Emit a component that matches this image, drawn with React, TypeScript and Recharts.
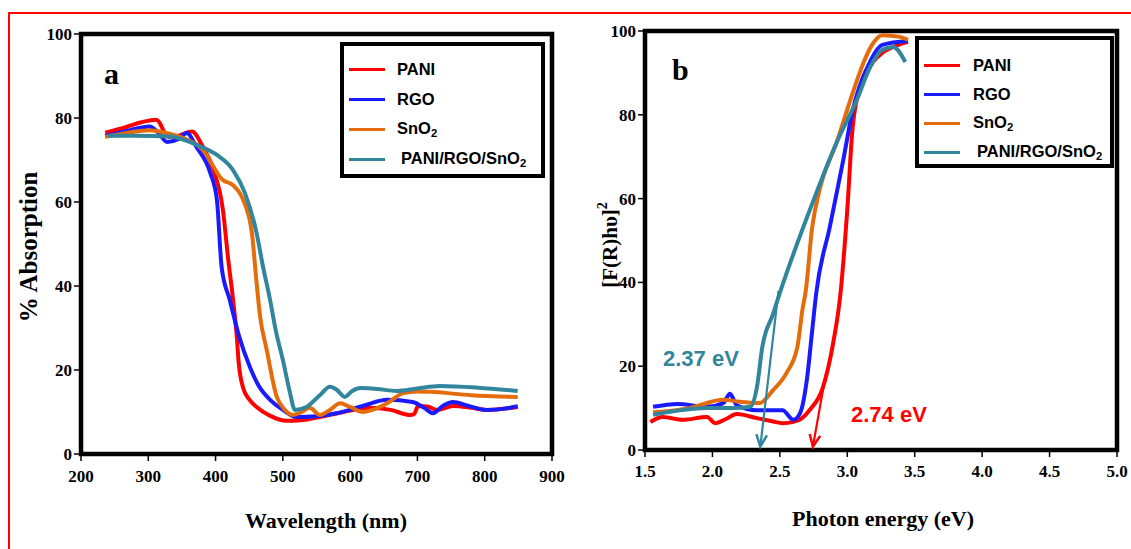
import React from 'react';
import { LineChart, Line, XAxis, YAxis, ReferenceArea, ReferenceLine, Legend } from 'recharts';

// ---------- shared ----------
const seriesNames = ['PANI', 'RGO', 'SnO2', 'PANI/RGO/SnO2'];
const seriesColors = ['#ff0000', '#1a1aff', '#e46c0a', '#31859c'];

// ---------- panel a : UV-vis absorption ----------
const wavelengthTicks = [200, 300, 400, 500, 600, 700, 800, 900];
const absorptionTicks = [0, 20, 40, 60, 80, 100];

const paniAbs = [
  { w: 236, v: 76.5 }, { w: 260, v: 77.5 }, { w: 290, v: 79 }, { w: 312, v: 79.6 }, { w: 330, v: 75.5 },
  { w: 345, v: 75.8 }, { w: 365, v: 76.8 }, { w: 380, v: 73.5 }, { w: 396, v: 68 }, { w: 411, v: 58 },
  { w: 419, v: 46 }, { w: 426, v: 36.7 }, { w: 432, v: 27 }, { w: 434, v: 22.4 }, { w: 441, v: 15.7 },
  { w: 450, v: 13 }, { w: 461, v: 11.2 }, { w: 480, v: 9.2 }, { w: 506, v: 7.9 }, { w: 530, v: 8.1 },
  { w: 555, v: 8.8 }, { w: 590, v: 10 }, { w: 629, v: 11 }, { w: 660, v: 10.5 }, { w: 689, v: 9.3 },
  { w: 695, v: 9.5 }, { w: 701, v: 11.4 }, { w: 715, v: 11.3 }, { w: 729, v: 10.5 }, { w: 753, v: 11.4 },
  { w: 780, v: 11 }, { w: 803, v: 10.5 }, { w: 849, v: 11.2 },
];
const rgoAbs = [
  { w: 236, v: 75.7 }, { w: 270, v: 77 }, { w: 302, v: 78 }, { w: 315, v: 76.5 }, { w: 328, v: 74.3 },
  { w: 345, v: 75 }, { w: 357, v: 76.4 }, { w: 372, v: 73 }, { w: 392, v: 67 }, { w: 402, v: 60.5 },
  { w: 409, v: 44.5 }, { w: 421, v: 36.7 }, { w: 435, v: 28 }, { w: 451, v: 20.7 }, { w: 465, v: 16 },
  { w: 481, v: 12.9 }, { w: 500, v: 10.5 }, { w: 521, v: 8.8 }, { w: 550, v: 9 }, { w: 580, v: 9.7 },
  { w: 620, v: 11.5 }, { w: 655, v: 12.9 }, { w: 693, v: 12.4 }, { w: 710, v: 11 }, { w: 723, v: 9.7 },
  { w: 738, v: 11.5 }, { w: 753, v: 12.4 }, { w: 775, v: 11.5 }, { w: 803, v: 10.5 }, { w: 830, v: 10.8 },
  { w: 849, v: 11.4 },
];
const sno2Abs = [
  { w: 236, v: 75.5 }, { w: 270, v: 76.5 }, { w: 302, v: 77.1 }, { w: 325, v: 76.5 }, { w: 347, v: 75.5 },
  { w: 381, v: 72.4 }, { w: 411, v: 65.2 }, { w: 426, v: 64 }, { w: 441, v: 60.5 }, { w: 454, v: 52.6 },
  { w: 461, v: 40.7 }, { w: 466, v: 33 }, { w: 476, v: 24.8 }, { w: 491, v: 13.6 }, { w: 503, v: 10.5 },
  { w: 515, v: 9.3 }, { w: 528, v: 10 }, { w: 540, v: 11 }, { w: 555, v: 9.3 }, { w: 570, v: 10.5 },
  { w: 585, v: 12.1 }, { w: 600, v: 11.2 }, { w: 619, v: 10 }, { w: 635, v: 10.6 }, { w: 655, v: 12.1 },
  { w: 679, v: 14.5 }, { w: 700, v: 14.9 }, { w: 719, v: 14.8 }, { w: 780, v: 14 }, { w: 849, v: 13.6 },
];
const compositeAbs = [
  { w: 240, v: 75.8 }, { w: 280, v: 75.8 }, { w: 332, v: 75.6 }, { w: 372, v: 73.6 }, { w: 402, v: 71.2 },
  { w: 426, v: 67.6 }, { w: 444, v: 62 }, { w: 461, v: 52.6 }, { w: 470, v: 45 }, { w: 481, v: 36.7 },
  { w: 490, v: 29 }, { w: 500, v: 22.4 }, { w: 510, v: 15 }, { w: 518, v: 10.5 }, { w: 535, v: 11.2 },
  { w: 555, v: 14 }, { w: 570, v: 16 }, { w: 580, v: 15.3 }, { w: 592, v: 13.6 }, { w: 603, v: 15 },
  { w: 615, v: 15.7 }, { w: 640, v: 15.5 }, { w: 669, v: 15 }, { w: 700, v: 15.6 }, { w: 733, v: 16.2 },
  { w: 790, v: 15.8 }, { w: 849, v: 15 },
];
const absSeries = [paniAbs, rgoAbs, sno2Abs, compositeAbs];

// ---------- panel b : Tauc plot ----------
const energyTicks = [1.5, 2.0, 2.5, 3.0, 3.5, 4.0, 4.5, 5.0];
const taucTicks = [0, 20, 40, 60, 80, 100];

const paniTauc = [
  { e: 1.54, v: 6.7 }, { e: 1.63, v: 7.9 }, { e: 1.78, v: 7.2 }, { e: 1.96, v: 7.9 }, { e: 2.02, v: 6.4 },
  { e: 2.1, v: 7.4 }, { e: 2.18, v: 8.6 }, { e: 2.33, v: 7.6 }, { e: 2.45, v: 6.8 }, { e: 2.52, v: 6.4 },
  { e: 2.6, v: 6.7 }, { e: 2.66, v: 7.5 }, { e: 2.72, v: 9.5 }, { e: 2.82, v: 15 }, { e: 2.89, v: 24.6 },
  { e: 2.95, v: 37.5 }, { e: 3.0, v: 57.3 }, { e: 3.04, v: 77.1 }, { e: 3.11, v: 88.3 }, { e: 3.19, v: 92.6 },
  { e: 3.26, v: 94.8 }, { e: 3.32, v: 95.9 }, { e: 3.45, v: 97.4 },
];
const rgoTauc = [
  { e: 1.56, v: 10.3 }, { e: 1.74, v: 11 }, { e: 1.96, v: 10.3 }, { e: 2.08, v: 11.2 }, { e: 2.13, v: 13.4 },
  { e: 2.18, v: 10.7 }, { e: 2.33, v: 9.5 }, { e: 2.52, v: 9.5 }, { e: 2.6, v: 7.2 }, { e: 2.65, v: 8.8 },
  { e: 2.7, v: 16.7 }, { e: 2.74, v: 28.6 }, { e: 2.77, v: 37.5 }, { e: 2.87, v: 53.2 }, { e: 2.97, v: 69.2 },
  { e: 3.04, v: 81.1 }, { e: 3.15, v: 91.4 }, { e: 3.26, v: 96.7 }, { e: 3.45, v: 97.6 },
];
const sno2Tauc = [
  { e: 1.56, v: 9 }, { e: 1.83, v: 10 }, { e: 2.08, v: 12 }, { e: 2.2, v: 11.5 }, { e: 2.35, v: 11.2 },
  { e: 2.45, v: 14.3 }, { e: 2.55, v: 18.4 }, { e: 2.63, v: 24.6 }, { e: 2.67, v: 34 }, { e: 2.69, v: 37.5 },
  { e: 2.74, v: 53.2 }, { e: 2.8, v: 62.8 }, { e: 2.92, v: 73.3 }, { e: 3.04, v: 85.2 }, { e: 3.12, v: 92.4 },
  { e: 3.18, v: 96.5 }, { e: 3.26, v: 99 }, { e: 3.39, v: 98.6 }, { e: 3.45, v: 97.9 },
];
const compositeTauc = [
  { e: 1.56, v: 8.4 }, { e: 1.96, v: 10 }, { e: 2.15, v: 10 }, { e: 2.28, v: 10.3 }, { e: 2.33, v: 15 },
  { e: 2.37, v: 24.6 }, { e: 2.45, v: 32.5 }, { e: 2.5, v: 37.5 }, { e: 2.63, v: 49.4 }, { e: 2.77, v: 61.3 },
  { e: 2.92, v: 73.3 }, { e: 3.07, v: 83.5 }, { e: 3.17, v: 91.4 }, { e: 3.26, v: 95.5 }, { e: 3.34, v: 96.2 },
  { e: 3.43, v: 92.6 },
];
const taucSeries = [paniTauc, rgoTauc, sno2Tauc, compositeTauc];

// band-gap annotations: [arrow start, arrow tip]
const compositeGapArrow = [{ x: 2.49, y: 38 }, { x: 2.355, y: 0.8 }];
const paniGapArrow = [{ x: 2.84, y: 18 }, { x: 2.745, y: 0.8 }];
const gapLabels = ['2.37 eV', '2.74 eV'];

// ---------- styles ----------
const SERIF = '"Times New Roman", "Liberation Serif", serif';
const SANS = 'Arial, "Liberation Sans", sans-serif';
const tickStyle = { fill: '#000', fontSize: 17, fontWeight: 'bold', fontFamily: SERIF } as const;

const renderName = (name: string) =>
  name.endsWith('2') ? (
    <>
      {name.slice(0, -1)}
      <sub style={{ fontSize: '0.68em', verticalAlign: '-0.25em' }}>2</sub>
    </>
  ) : (
    name
  );

const makeLegend = (rowGap: number, firstRow: number, textLeft: number) => (props: any) => {
  const payload = [...(props.payload || [])].sort(
    (a: any, b: any) => seriesNames.indexOf(String(a.value)) - seriesNames.indexOf(String(b.value))
  );
  return (
    <div
      style={{
        boxSizing: 'border-box',
        width: '100%',
        height: '100%',
        border: '4px solid #000',
        background: '#fff',
        position: 'relative',
        fontFamily: SANS,
        fontWeight: 'bold',
        fontSize: 16.5,
        color: '#000',
      }}
    >
      {payload.map((p: any, i: number) => (
        <div
          key={i}
          style={{
            position: 'absolute',
            left: 5,
            top: firstRow + i * rowGap - 10,
            height: 20,
            display: 'flex',
            alignItems: 'center',
            whiteSpace: 'nowrap',
          }}
        >
          <div style={{ width: 36, height: 3, background: p.color }} />
          <div style={{ marginLeft: textLeft + (String(p.value) === seriesNames[3] ? 4 : 0) }}>
            {renderName(String(p.value))}
          </div>
        </div>
      ))}
    </div>
  );
};

const makeArrow = (color: string) => (props: any) => {
  const { x1, y1, x2, y2 } = props;
  const ang = Math.atan2(y2 - y1, x2 - x1);
  const L = 13;
  const a = 0.42;
  const p1 = `${x2 - L * Math.cos(ang - a)},${y2 - L * Math.sin(ang - a)}`;
  const p2 = `${x2 - L * Math.cos(ang + a)},${y2 - L * Math.sin(ang + a)}`;
  return (
    <g>
      <line x1={x1} y1={y1} x2={x2} y2={y2} stroke={color} strokeWidth={2.2} />
      <polyline points={`${p1} ${x2},${y2} ${p2}`} fill="none" stroke={color} strokeWidth={2.5} />
    </g>
  );
};

const PanelA = () => (
  <LineChart width={565} height={549} margin={{ top: 34, right: 13, bottom: 65, left: 21 }}>
    <XAxis
      dataKey="w"
      type="number"
      domain={[200, 900]}
      ticks={wavelengthTicks}
      allowDataOverflow
      axisLine={false}
      tickLine={{ stroke: '#000', strokeWidth: 1.5 }}
      tickSize={7}
      tickMargin={9}
      height={30}
      tick={tickStyle}
    />
    <YAxis
      type="number"
      domain={[0, 100]}
      ticks={absorptionTicks}
      axisLine={false}
      tickLine={{ stroke: '#000', strokeWidth: 1.5 }}
      tickSize={7}
      tickMargin={2}
      width={60}
      tick={tickStyle}
    />
    <ReferenceArea x1={200} x2={900} y1={0} y2={100} fill="none" stroke="#000" strokeWidth={4.5} ifOverflow="visible" />
    {absSeries.map((d, i) => (
      <Line
        key={seriesNames[i]}
        data={d}
        dataKey="v"
        name={seriesNames[i]}
        type="monotone"
        stroke={seriesColors[i]}
        strokeWidth={4}
        dot={false}
        activeDot={false}
        isAnimationActive={false}
      />
    ))}
    <Legend
      layout="horizontal"
      verticalAlign="middle"
      align="center"
      content={makeLegend(30, 23, 12)}
      wrapperStyle={{ left: 340, top: 42, width: 205, height: 136 }}
    />
    <text x={104} y={84} fontFamily={SERIF} fontWeight="bold" fontSize={30} fill="#000">a</text>
    <text
      x={0}
      y={0}
      transform="translate(28,247) rotate(-90)"
      textAnchor="middle"
      dominantBaseline="central"
      fontFamily={SERIF}
      fontWeight="bold"
      fontSize={25}
      fill="#000"
    >
      % Absorption
    </text>
    <text x={326} y={520} textAnchor="middle" dominantBaseline="central" fontFamily={SERIF} fontWeight="bold" fontSize={22} fill="#000">
      Wavelength (nm)
    </text>
  </LineChart>
);

const PanelB = () => (
  <LineChart width={566} height={549} margin={{ top: 31, right: 14, bottom: 69, left: 20 }}>
    <XAxis
      dataKey="e"
      type="number"
      domain={[1.5, 5.0]}
      ticks={energyTicks}
      tickFormatter={(t: number) => t.toFixed(1)}
      axisLine={false}
      tickLine={{ stroke: '#000', strokeWidth: 1.5 }}
      tickSize={7}
      tickMargin={8}
      height={30}
      tick={tickStyle}
    />
    <YAxis
      type="number"
      domain={[0, 100]}
      ticks={taucTicks}
      axisLine={false}
      tickLine={{ stroke: '#000', strokeWidth: 1.5 }}
      tickSize={7}
      tickMargin={2}
      width={60}
      tick={tickStyle}
    />
    <ReferenceArea x1={1.5} x2={5.0} y1={0} y2={100} fill="none" stroke="#000" strokeWidth={4.5} ifOverflow="visible" />
    {taucSeries.map((d, i) => (
      <Line
        key={seriesNames[i]}
        data={d}
        dataKey="v"
        name={seriesNames[i]}
        type="monotone"
        stroke={seriesColors[i]}
        strokeWidth={4}
        dot={false}
        activeDot={false}
        isAnimationActive={false}
      />
    ))}
    <ReferenceLine segment={compositeGapArrow} shape={makeArrow(seriesColors[3])} ifOverflow="visible" />
    <ReferenceLine segment={paniGapArrow} shape={makeArrow(seriesColors[0])} ifOverflow="visible" />
    <Legend
      layout="horizontal"
      verticalAlign="middle"
      align="center"
      content={makeLegend(29, 25, 13)}
      wrapperStyle={{ left: 350, top: 36, width: 199, height: 132 }}
    />
    <text x={107} y={80} fontFamily={SERIF} fontWeight="bold" fontSize={30} fill="#000">b</text>
    <text
      x={0}
      y={0}
      transform="translate(45,245) rotate(-90)"
      textAnchor="middle"
      dominantBaseline="central"
      fontFamily={SERIF}
      fontWeight="bold"
      fontSize={21}
      fill="#000"
    >
      [F(R)hυ]<tspan dy={-8} fontSize={14}>2</tspan>
    </text>
    <text x={318} y={518} textAnchor="middle" dominantBaseline="central" fontFamily={SERIF} fontWeight="bold" fontSize={22} fill="#000">
      Photon energy (eV)
    </text>
    <text x={98} y={366} fontFamily={SANS} fontWeight="bold" fontSize={22} fill={seriesColors[3]}>{gapLabels[0]}</text>
    <text x={286} y={422} fontFamily={SANS} fontWeight="bold" fontSize={22} fill={seriesColors[0]}>{gapLabels[1]}</text>
  </LineChart>
);

export default function App() {
  return (
    <div style={{ position: 'absolute', left: 0, top: 0, width: 1131, height: 549, overflow: 'hidden', background: '#fff' }}>
      <div style={{ position: 'absolute', left: 8, top: 12, width: 1200, height: 600, border: '2px solid #ff0000' }} />
      <div style={{ position: 'absolute', left: 0, top: 0 }}>
        <PanelA />
      </div>
      <div style={{ position: 'absolute', left: 565, top: 0 }}>
        <PanelB />
      </div>
    </div>
  );
}
